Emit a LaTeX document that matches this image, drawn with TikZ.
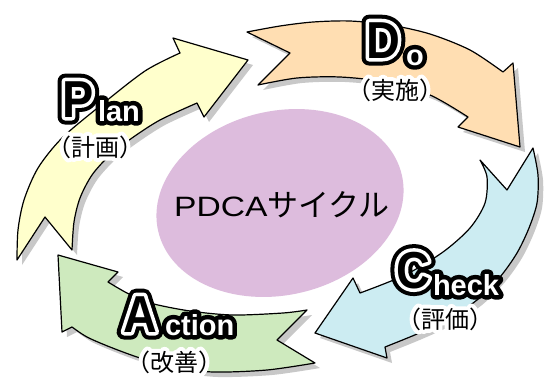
\documentclass[tikz,border=0pt]{standalone}
\usepackage{fontspec}
\newfontfamily\jpfont{Noto Sans CJK JP}
\newfontfamily\jphalo{Noto Sans CJK JP}[FakeBold=34]
\newfontfamily\biglat{Liberation Sans}[FakeStretch=0.9]
\newfontfamily\bigouter{Liberation Sans}[FakeStretch=0.9, FakeBold=29]
\newfontfamily\bigmid{Liberation Sans}[FakeStretch=0.9, FakeBold=13.5]
\newfontfamily\smalllat{Liberation Sans}
\newfontfamily\smallouter{Liberation Sans}[FakeBold=31]
\newfontfamily\widelat{Liberation Sans}[FakeStretch=1.2]
\definecolor{cyel}{RGB}{255,255,204}
\definecolor{corg}{RGB}{255,222,178}
\definecolor{cblu}{RGB}{204,236,242}
\definecolor{cgrn}{RGB}{206,234,190}
\definecolor{cell}{RGB}{221,188,221}
\definecolor{cshd}{RGB}{200,200,200}
\tikzset{
  arrowshape/.style={draw=black, line width=1.2pt, line join=round},
  shadowshape/.style={fill=cshd, draw=none, shift={(5,5)}},
  lbl/.style={inner sep=0pt, outer sep=0pt, anchor=base west},
  bigo/.style={lbl, text=black, font=\bigouter\bfseries\fontsize{52}{52}\selectfont},
  bigm/.style={lbl, text=white, font=\bigmid\bfseries\fontsize{52}{52}\selectfont},
  bigc/.style={lbl, text=black, font=\biglat\bfseries\fontsize{52}{52}\selectfont},
  smallo/.style={lbl, text=black, font=\smallouter\bfseries\fontsize{29}{29}\selectfont},
  smallc/.style={lbl, text=white, font=\smalllat\bfseries\fontsize{29}{29}\selectfont},
  jpl/.style={inner sep=0pt, outer sep=0pt, anchor=center, font=\jpfont\fontsize{24}{24}\selectfont},
  jph/.style={jpl, text=white, font=\jphalo\fontsize{24}{24}\selectfont},
}
\newcommand{\pathPlan}{(17,260) -- (45,217) -- (72,250)
  -- plot[smooth] coordinates {(72,250) (74,222) (80,198) (92,175) (110,155) (132,138) (160,120) (197,103)}
  -- (204,117) -- (248,60) -- (173,38) -- (180,53)
  -- plot[smooth] coordinates {(180,53) (145,71) (100,106) (62,138) (38,168) (24,200) (18,230) (17,260)} -- cycle}
\newcommand{\pathDo}{(247,32) -- (290,53) -- (258,85)
  -- plot[smooth] coordinates {(258,85) (297,78) (340,77) (385,82) (430,95) (468,117)}
  -- (458,127) -- (520,147) -- (513,63) -- (503,72)
  -- plot[smooth] coordinates {(503,72) (470,50) (430,34) (390,25) (350,21) (313,22) (280,26) (247,32)} -- cycle}
\newcommand{\pathCheck}{(533,148) -- (507,190) -- (480,160)
  -- plot[smooth] coordinates {(480,160) (487,177) (485,203) (470,228) (443,252) (405,275) (360,293)}
  -- (353,278) -- (315,333) -- (387,358) -- (385,347)
  -- plot[smooth] coordinates {(385,347) (417,334) (447,320) (477,300) (500,277) (517,253) (529,228) (537,203) (538,175) (533,148)} -- cycle}
\newcommand{\pathAct}{(315,363) -- (277,340) -- (307,310)
  -- plot[smooth] coordinates {(307,310) (283,313) (233,315) (190,311) (150,303) (127,293) (108,282)}
  -- (118,272) -- (58,255) -- (62,332) -- (72,327)
  -- plot[smooth] coordinates {(72,327) (87,337) (110,347) (140,358) (173,367) (213,372) (267,370) (315,363)} -- cycle}
% #1 name, #2 big-letter position, #3 big letter, #4 small-text position, #5 small text
\newcommand{\bigword}[5]{%
  \node[bigo] (#1-bo) at #2 {#3};
  \node[smallo] (#1-so) at #4 {#5};
  \node[bigm] (#1-bm) at #2 {#3};
  \node[smallc] (#1-sc) at #4 {#5};
  \node[bigc] (#1-bc) at #2 {#3};}
\newcommand{\jplabel}[3]{%
  \node[jph] (#1-h) at #2 {#3};
  \node[jpl] (#1) at #2 {#3};}
\begin{document}
\begin{tikzpicture}[x=1pt,y=-1pt]
\useasboundingbox[fill=white] (0,0) rectangle (549,381);
% shadows
\fill[shadowshape] \pathPlan;
\fill[shadowshape] \pathDo;
\fill[shadowshape] \pathCheck;
\fill[shadowshape] \pathAct;
% arrows
\filldraw[arrowshape, fill=cyel] \pathPlan;
\filldraw[arrowshape, fill=corg] \pathDo;
\filldraw[arrowshape, fill=cblu] \pathCheck;
\filldraw[arrowshape, fill=cgrn] \pathAct;
% centre ellipse
\fill[cell, rotate around={13:(280,203)}] (280,203) ellipse [x radius=125, y radius=92];
\node[inner sep=0pt, anchor=base] (title) at (282,216)
  {{\widelat\fontsize{28}{28}\selectfont PDCA}{\jpfont\fontsize{31}{31}\selectfont サイクル}};
\begin{scope}[line join=round, line cap=round]
\bigword{plan}{(62,117)}{P}{(98,121)}{lan}
\bigword{do}{(366,58)}{D}{(406,65)}{o}
\bigword{check}{(396,288)}{C}{(433,295)}{heck}
\bigword{action}{(123,332)}{A}{(165,335)}{ction}
\jplabel{keikaku}{(95,147)}{（計画）}
\jplabel{jisshi}{(395,90)}{（実施）}
\jplabel{hyouka}{(445,319)}{（評価）}
\jplabel{kaizen}{(174,362)}{（改善）}
\end{scope}
\end{tikzpicture}
\end{document}
